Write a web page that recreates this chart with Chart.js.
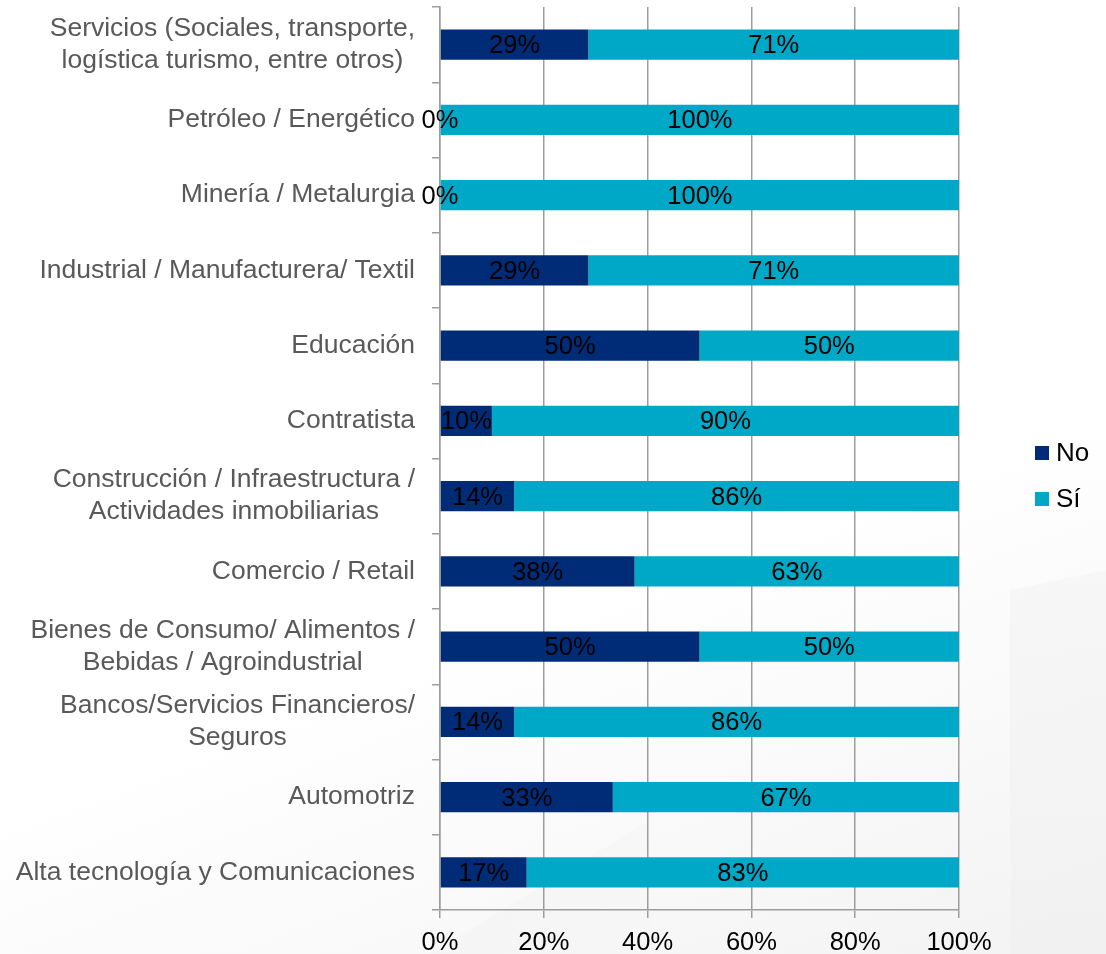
<!DOCTYPE html>
<html lang="es">
<head>
<meta charset="UTF-8">
<title>Sectores</title>
<script src="https://cdn.jsdelivr.net/npm/chart.js@4.4.1/dist/chart.umd.min.js"></script>
<style>
  html, body { margin: 0; padding: 0; background: #fff; }
  #wrap { position: relative; width: 1106px; height: 954px; overflow: hidden;
          background: linear-gradient(160deg, #ffffff 60%, #f3f3f3 100%); }
  .shade1 { position: absolute; left: 0; top: 0; width: 1106px; height: 954px;
            background: linear-gradient(180deg, #fbfbfb, #efefef);
            clip-path: polygon(1010px 590px, 1106px 570px, 1106px 954px, 1010px 954px); opacity: .6; }
  .shade2 { position: absolute; left: 0; top: 0; width: 1106px; height: 954px;
            background: linear-gradient(90deg, #efefef, #fafafa);
            clip-path: polygon(430px 954px, 650px 820px, 650px 954px); opacity: .6; }
  canvas { position: absolute; left: 0; top: 0; }
  .legend { position: absolute; left: 1035px; font: 26px "Liberation Sans", Arial, sans-serif; color: #000; }
  .legend span { display: inline-block; width: 14px; height: 14px; margin-right: 7px; vertical-align: 1px; }
</style>
</head>
<body>
<div id="wrap">
  <div class="shade1"></div>
  <div class="shade2"></div>
  <canvas id="chart" width="1106" height="954"></canvas>
  <div class="legend" style="top:437px"><span style="background:#002C77"></span>No</div>
  <div class="legend" style="top:483px"><span style="background:#00A8C8"></span>Sí</div>
</div>
<script>
// datos
const categories = [
  ['Servicios (Sociales, transporte,', 'logística turismo, entre otros)'],
  'Petróleo / Energético',
  'Minería / Metalurgia',
  'Industrial / Manufacturera/ Textil',
  'Educación',
  'Contratista',
  ['Construcción / Infraestructura /', 'Actividades inmobiliarias'],
  'Comercio / Retail',
  ['Bienes de Consumo/ Alimentos /', 'Bebidas / Agroindustrial'],
  ['Bancos/Servicios Financieros/', 'Seguros'],
  'Automotriz',
  'Alta tecnología y Comunicaciones'
];
const noValues = [28.6, 0, 0, 28.6, 50, 10, 14.3, 37.5, 50, 14.3, 33.3, 16.7];
const siValues = [71.4, 100, 100, 71.4, 50, 90, 85.7, 62.5, 50, 85.7, 66.7, 83.3];
const xTicks = [0, 20, 40, 60, 80, 100];

const FONT = '"Liberation Sans", Arial, sans-serif';
const gridColor = '#9d9d9d';

// etiquetas dentro de las barras
const barLabels = {
  id: 'barLabels',
  afterDatasetsDraw(chart) {
    const ctx = chart.ctx;
    ctx.save();
    ctx.font = '25.5px ' + FONT;
    ctx.fillStyle = '#000';
    ctx.textAlign = 'center';
    ctx.textBaseline = 'middle';
    chart.data.datasets.forEach((ds, di) => {
      chart.getDatasetMeta(di).data.forEach((el, i) => {
        const p = el.getProps(['x', 'y', 'base'], true);
        ctx.fillText(Math.round(ds.data[i]) + '%', (p.x + p.base) / 2, p.y + 1.5);
      });
    });
    ctx.restore();
  }
};

// categorias: lineas centradas entre si, bloque alineado a la derecha
const catLabels = {
  id: 'catLabels',
  afterDraw(chart) {
    const ctx = chart.ctx;
    const sc = chart.scales.y;
    ctx.save();
    ctx.font = '26.5px ' + FONT;
    ctx.fillStyle = '#595959';
    ctx.textAlign = 'center';
    ctx.textBaseline = 'middle';
    const right = sc.right - 25;
    categories.forEach((c, i) => {
      const lines = Array.isArray(c) ? c : [c];
      const w = Math.max(...lines.map(l => ctx.measureText(l).width));
      const cx = right - w / 2;
      const y = sc.getPixelForValue(i);
      const lh = 32;
      lines.forEach((l, k) => {
        ctx.fillText(l, cx, y + (k - (lines.length - 1) / 2) * lh);
      });
    });
    ctx.restore();
  }
};

new Chart(document.getElementById('chart'), {
  type: 'bar',
  data: {
    labels: categories,
    datasets: [
      { label: 'No', data: noValues, backgroundColor: '#002C77' },
      { label: 'Sí', data: siValues, backgroundColor: '#00A8C8' }
    ]
  },
  options: {
    indexAxis: 'y',
    responsive: false,
    animation: false,
    barPercentage: 0.4,
    categoryPercentage: 1,
    layout: { padding: { top: 7, right: 147, left: 0, bottom: 0 } },
    plugins: { legend: { display: false }, tooltip: { enabled: false } },
    scales: {
      x: {
        stacked: true,
        min: 0, max: 100,
        afterBuildTicks: s => { s.ticks = xTicks.map(v => ({ value: v })); },
        afterFit: s => { s.height = 44; },
        ticks: { callback: v => v + '%', color: '#000', font: { family: FONT, size: 25.5 }, padding: 10, maxRotation: 0 },
        grid: { color: gridColor, lineWidth: 1.5, tickLength: 8 },
        border: { color: gridColor, width: 1.5 }
      },
      y: {
        stacked: true,
        afterFit: s => { s.width = 440; },
        ticks: { callback: () => '', font: { family: FONT, size: 1 } },
        grid: { drawOnChartArea: false, color: gridColor, lineWidth: 1.5, tickLength: 8, offset: true },
        border: { color: gridColor, width: 1.5 }
      }
    }
  },
  plugins: [barLabels, catLabels]
});
</script>
</body>
</html>
